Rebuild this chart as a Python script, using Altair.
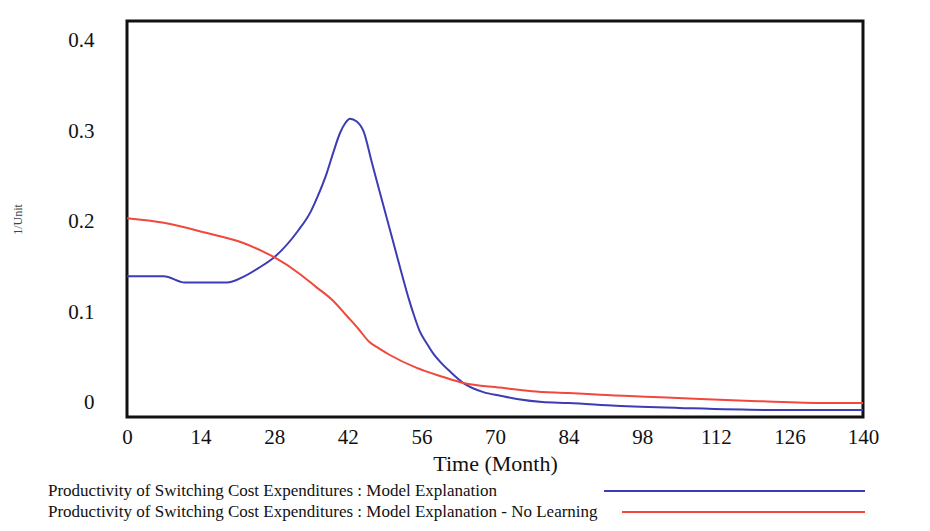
import altair as alt
import pandas as pd

# ---- data ----
SERIES = [
    "Productivity of Switching Cost Expenditures : Model Explanation",
    "Productivity of Switching Cost Expenditures : Model Explanation - No Learning",
]
COLORS = ["#3c3cb4", "#f0483c"]

blue_t = [0, 7, 11, 19, 22, 25, 28, 32.5, 35, 36.1, 38, 39.2, 40.5, 41.5, 42.4, 43.7,
          45.0, 46.6, 48.5, 50.4, 52.3, 53.6, 54.7, 55.7, 57, 58.2, 59.8, 61.4, 64,
          67.8, 71, 74.5, 79, 84, 93, 105, 122, 140]
blue_v = [0.140, 0.140, 0.133, 0.133, 0.139, 0.149, 0.161, 0.190, 0.212, 0.226, 0.254,
          0.276, 0.298, 0.309, 0.314, 0.311, 0.300, 0.265, 0.224, 0.183, 0.142, 0.115,
          0.095, 0.079, 0.066, 0.055, 0.044, 0.035, 0.022, 0.012, 0.008, 0.004, 0.001,
          0.0, -0.003, -0.0055, -0.0077, -0.0077]

red_t = [0, 7, 15, 22, 26, 28, 33, 36, 39, 42, 44, 46, 48, 50, 55, 60, 64, 71, 77, 84,
         90, 100, 109, 120, 133, 140]
red_v = [0.204, 0.199, 0.188, 0.177, 0.167, 0.161, 0.142, 0.128, 0.114, 0.095, 0.082,
         0.068, 0.060, 0.053, 0.039, 0.029, 0.022, 0.017, 0.013, 0.011, 0.009, 0.0066,
         0.0044, 0.002, 0.0, 0.0]

x_ticks = [0, 14, 28, 42, 56, 70, 84, 98, 112, 126, 140]
y_ticks = [0, 0.1, 0.2, 0.3, 0.4]

df = pd.concat([
    pd.DataFrame({"t": blue_t, "v": blue_v, "series": SERIES[0]}),
    pd.DataFrame({"t": red_t, "v": red_v, "series": SERIES[1]}),
])

SERIF = "Liberation Serif"
W, H = 736, 396

lines = alt.Chart(df).mark_line(strokeWidth=2, interpolate="monotone").encode(
    x=alt.X("t:Q", scale=alt.Scale(domain=[0, 140], nice=False),
            axis=alt.Axis(values=x_ticks, title="Time (Month)", grid=False, ticks=False,
                          domain=False, labelFont=SERIF, labelFontSize=21,
                          labelPadding=9, labelColor="#111", labelFlush=False,
                          titleFont=SERIF, titleFontSize=22, titleFontWeight="normal",
                          titlePadding=6, titleColor="#111")),
    y=alt.Y("v:Q", scale=alt.Scale(domain=[-0.0155, 0.422], nice=False, zero=False),
            axis=alt.Axis(values=y_ticks, format=".1~f", title="1/Unit", grid=False,
                          ticks=False, domain=False, labelFont=SERIF, labelFontSize=21,
                          labelPadding=33, labelColor="#111", labelFlush=False,
                          titleFont=SERIF, titleFontSize=12, titleFontWeight="normal",
                          titleX=-110, titleY=198, titleAlign="center",
                          titleBaseline="middle", titleColor="#444")),
    color=alt.Color("series:N", scale=alt.Scale(domain=SERIES, range=COLORS), legend=None),
    detail="series:N",
)

layers = [lines]
rule_x1 = [477, 495]
for i, name in enumerate(SERIES):
    ypos = 470 + 21 * i
    layers.append(
        alt.Chart(pd.DataFrame({"label": [name]})).mark_text(
            align="left", baseline="middle", font=SERIF, fontSize=17, color="#111"
        ).encode(x=alt.value(-79), y=alt.value(ypos), text="label:N")
    )
    layers.append(
        alt.Chart(pd.DataFrame({"label": [name]})).mark_rule(
            color=COLORS[i], strokeWidth=2
        ).encode(x=alt.value(rule_x1[i]), x2=alt.value(738), y=alt.value(ypos))
    )

chart = alt.layer(*layers).properties(
    width=W, height=H,
    background="white",
    autosize=alt.AutoSizeParams(type="none"),
    padding={"left": 127, "top": 21, "right": 67, "bottom": 114},
).configure_view(stroke="#111", strokeWidth=3)

chart.save("out.html", embed_options={"renderer": "svg", "actions": False})
